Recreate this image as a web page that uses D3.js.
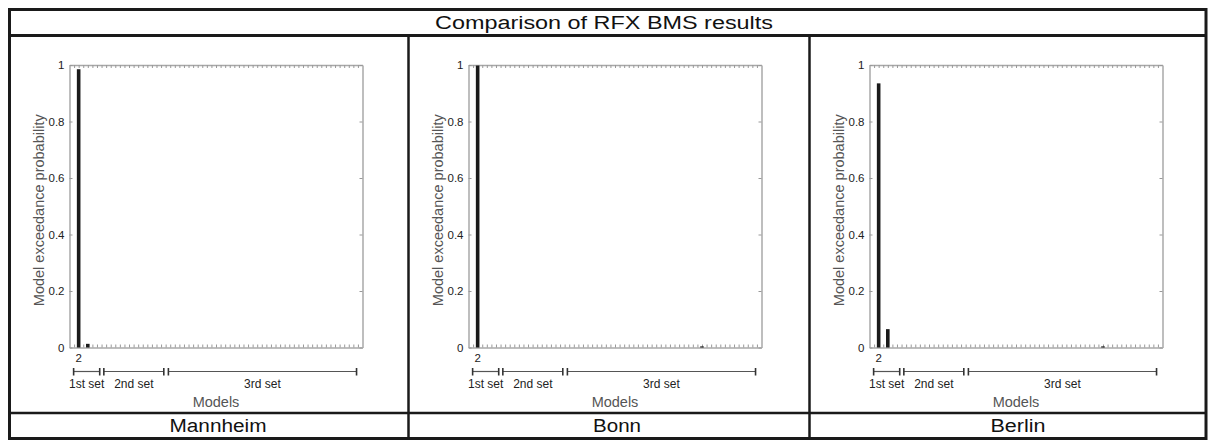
<!DOCTYPE html>
<html>
<head>
<meta charset="utf-8">
<script src="https://cdn.jsdelivr.net/npm/d3@7"></script>
<style>
  body { margin: 0; background: #fff; }
  svg text { font-family: "Liberation Sans", Arial, Helvetica, sans-serif; }
</style>
</head>
<body>
<div id="viz"></div>
<script>
// chart data
var chartTitle = "Comparison of RFX BMS results";
var sites = ["Mannheim", "Bonn", "Berlin"];
var nModels = 64;                       // x domain runs 0..64
var labelledModel = 2;
var barModels = [[2, 4], [2, 51], [2, 4, 51]];
var barValues = [[0.985, 0.013], [0.998, 0.004], [0.935, 0.065, 0.004]];
var yTicks = [0, 0.2, 0.4, 0.6, 0.8, 1];
var yTickLabels = ["0", "0.2", "0.4", "0.6", "0.8", "1"];
var setNames = ["1st set", "2nd set", "3rd set"];
var setFirst = [0.9, 7.5, 21.6];
var setLast = [6.6, 20.6, 62.7];

var W = 1208, H = 441;
var svg = d3.select("#viz").append("svg")
  .attr("width", W).attr("height", H);

// table frame
var tLeft = 9.5, tRight = 1206, tTop = 9.5, titleBottom = 35.5, labelTop = 413, tBottom = 438.5;
var colX = [tLeft, 408.5, 809.5, tRight];

svg.append("text")
  .attr("x", 604).attr("y", 28.5)
  .attr("text-anchor", "middle")
  .attr("font-size", 18).attr("fill", "#111")
  .attr("textLength", 338).attr("lengthAdjust", "spacingAndGlyphs")
  .text(chartTitle);

var plotW = 293;
var yTop = 65, yBottom = 347.5;
var labelWidths = [97, 48, 55];

sites.forEach(function(site, i) {
  var ax = colX[i] + 60;
  var g = svg.append("g");

  var x = d3.scaleLinear().domain([0, nModels]).range([ax, ax + plotW]);
  var y = d3.scaleLinear().domain([0, 1]).range([yBottom, yTop]);

  // minor model ticks top + bottom
  var modelTicks = d3.range(1, nModels);
  g.append("g").attr("transform", "translate(0," + yBottom + ")")
    .call(d3.axisBottom(x).tickValues(modelTicks).tickSize(-3).tickSizeOuter(0).tickFormat(""));
  g.append("g").attr("transform", "translate(0," + yTop + ")")
    .call(d3.axisTop(x).tickValues(modelTicks).tickSize(-3).tickSizeOuter(0).tickFormat(""));

  // y axes
  g.append("g").attr("class", "yl").attr("transform", "translate(" + ax + ",0)")
    .call(d3.axisLeft(y).tickValues(yTicks).tickSize(-3).tickSizeOuter(0).tickPadding(5)
      .tickFormat(function(d, k) { return yTickLabels[k]; }));
  g.append("g").attr("transform", "translate(" + (ax + plotW) + ",0)")
    .call(d3.axisRight(y).tickValues(yTicks).tickSize(-3).tickSizeOuter(0).tickFormat(""));

  g.selectAll(".domain").attr("stroke", "#a8a8a8").attr("stroke-width", 1.5);
  g.selectAll(".tick line").attr("stroke", "#999").attr("stroke-width", 1);
  g.selectAll(".yl text").attr("font-size", 11.5).attr("fill", "#222")
    .attr("font-family", "Liberation Sans, Arial, sans-serif");

  // bars
  var bars = barModels[i].map(function(m, k) { return { m: m, v: barValues[i][k] }; });
  g.selectAll("rect.bar").data(bars).enter().append("rect")
    .attr("class", "bar")
    .attr("x", function(d) { return x(d.m) - 1.8; })
    .attr("width", 3.6)
    .attr("y", function(d) { return y(d.v); })
    .attr("height", function(d) { return yBottom - y(d.v); })
    .attr("fill", "#1a1a1a");

  g.append("text")
    .attr("x", x(labelledModel)).attr("y", 362)
    .attr("text-anchor", "middle").attr("font-size", 11.5).attr("fill", "#222")
    .text(labelledModel);

  // set brackets
  setNames.forEach(function(name, k) {
    var x0 = x(setFirst[k]), x1 = x(setLast[k]);
    g.append("line").attr("x1", x0).attr("x2", x1).attr("y1", 371.5).attr("y2", 371.5)
      .attr("stroke", "#555").attr("stroke-width", 1.2);
    [x0, x1].forEach(function(xx) {
      g.append("line").attr("x1", xx).attr("x2", xx).attr("y1", 368).attr("y2", 375.5)
        .attr("stroke", "#333").attr("stroke-width", 1.6);
    });
    g.append("text").attr("x", (x0 + x1) / 2).attr("y", 388)
      .attr("text-anchor", "middle").attr("font-size", 12).attr("fill", "#222")
      .text(name);
  });

  g.append("text")
    .attr("x", ax + plotW / 2).attr("y", 407)
    .attr("text-anchor", "middle").attr("font-size", 14.5).attr("fill", "#555")
    .text("Models");

  g.append("text")
    .attr("transform", "translate(" + (ax - 26) + "," + ((yTop + yBottom) / 2 + 4) + ") rotate(-90)")
    .attr("text-anchor", "middle").attr("font-size", 14.5).attr("fill", "#555")
    .text("Model exceedance probability");

  svg.append("text")
    .attr("x", ax + plotW / 2 + 2).attr("y", 432)
    .attr("text-anchor", "middle").attr("font-size", 18).attr("fill", "#111")
    .attr("textLength", labelWidths[i]).attr("lengthAdjust", "spacingAndGlyphs")
    .text(site);
});

// table lines
var frame = svg.append("g").attr("stroke", "#1a1a1a").attr("fill", "none");
frame.append("rect").attr("x", tLeft).attr("y", tTop)
  .attr("width", tRight - tLeft).attr("height", tBottom - tTop).attr("stroke-width", 3);
frame.append("line").attr("x1", tLeft).attr("x2", tRight).attr("y1", titleBottom).attr("y2", titleBottom)
  .attr("stroke-width", 3);
frame.append("line").attr("x1", tLeft).attr("x2", tRight).attr("y1", labelTop).attr("y2", labelTop)
  .attr("stroke-width", 2.5);
[colX[1], colX[2]].forEach(function(cx) {
  frame.append("line").attr("x1", cx).attr("x2", cx).attr("y1", titleBottom).attr("y2", tBottom)
    .attr("stroke-width", 2.5);
});
</script>
</body>
</html>
